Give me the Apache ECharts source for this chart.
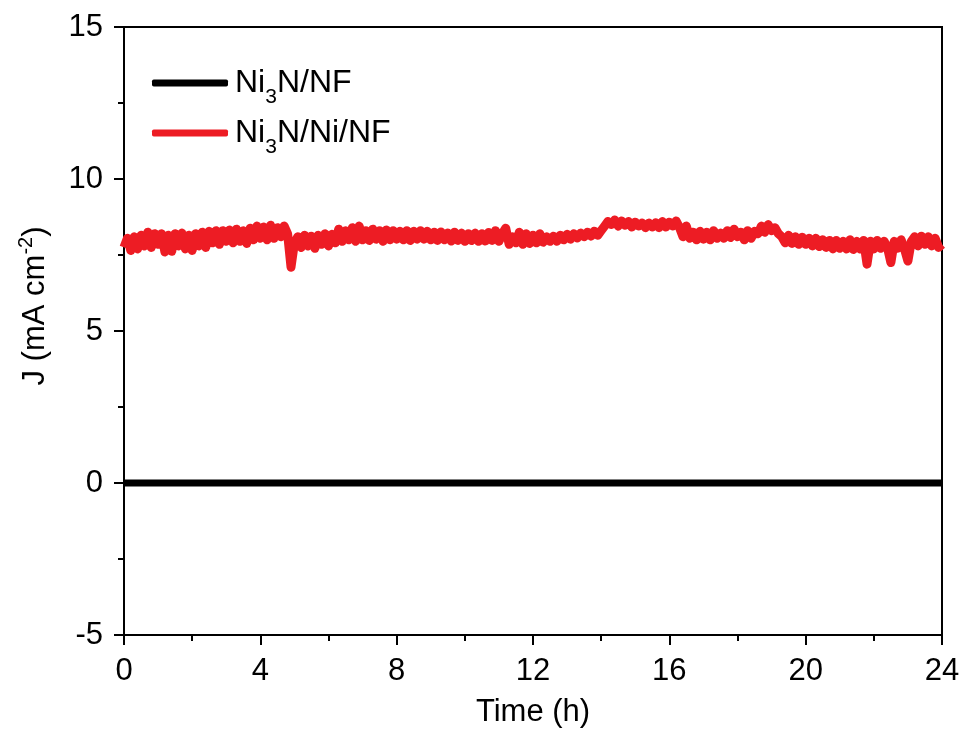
<!DOCTYPE html>
<html>
<head>
<meta charset="utf-8">
<script src="https://cdn.jsdelivr.net/npm/echarts@6/dist/echarts.min.js"></script>
<style>
  html, body { margin: 0; padding: 0; background: #fff; }
  #chart { width: 966px; height: 733px; }
</style>
</head>
<body>
<div id="chart"></div>
<script>
// Chronoamperometry: current density over 24 h, sampled every 0.1 h
const timeStep = 0.1;
const seriesNames = ['Ni3N/NF', 'Ni3N/Ni/NF'];
const xTicks = [0, 4, 8, 12, 16, 20, 24];
const yTicks = [-5, 0, 5, 10, 15];

// Ni3N/NF stays at ~0 mA cm-2 over the whole run
const ni3nNF = [[0, 0], [24, 0]];

// Ni3N/Ni/NF current density (mA cm-2)
const ni3nNiNF = [
  7.75, 8.05, 7.65, 8.1, 7.7, 8.15,
  7.8, 8.25, 7.75, 8.2, 7.85,
  8.2, 7.6, 8.15, 7.62,
  8.2, 7.8, 8.22, 7.7, 8.15,
  7.65, 8.2, 7.8, 8.25, 7.75,
  8.28, 7.9, 8.3, 7.85, 8.3, 7.95,
  8.32, 7.9, 8.35, 7.95, 8.3, 7.88, 8.38,
  8.0, 8.45, 8.05, 8.42, 8.0, 8.48, 8.05, 8.4, 8.1, 8.45, 8.2,
  7.1,
  7.9, 8.1,
  7.75, 8.15, 7.8, 8.12, 7.72, 8.15, 7.85, 8.2, 7.8, 8.18, 7.9,
  8.35, 7.95, 8.3, 8.0, 8.4, 7.95, 8.45, 8.0, 8.3, 7.98, 8.35, 8.02, 8.3,
  7.95, 8.32, 8.0, 8.3, 8.02, 8.28, 8.0, 8.3, 7.98, 8.28, 8.02, 8.3,
  8.02, 8.28, 8.0, 8.25, 7.98, 8.26, 8.0, 8.22, 7.96, 8.25, 7.98, 8.22,
  7.95, 8.2, 7.98, 8.22, 7.95, 8.2, 7.96, 8.24, 7.98, 8.3, 7.95,
  8.2, 8.38, 7.85, 8.1, 7.9, 8.25, 7.85, 8.2, 7.88, 8.15, 7.9, 8.2, 7.92, 8.1, 7.95,
  8.12, 7.95, 8.15, 8.0, 8.18, 8.02, 8.2, 8.06, 8.22, 8.1, 8.25, 8.12, 8.28, 8.15, 8.3,
  8.45, 8.6, 8.5,
  8.65, 8.45, 8.62, 8.48, 8.6, 8.42, 8.58, 8.45, 8.55, 8.4,
  8.55, 8.42, 8.56, 8.4, 8.6, 8.42, 8.58, 8.45, 8.62, 8.4,
  8.1, 8.45, 8.05,
  8.25, 8.0, 8.28, 8.02, 8.25, 8.0, 8.3, 8.05, 8.22,
  8.05, 8.3, 8.08, 8.35, 8.1, 8.25, 8.0, 8.3, 8.05, 8.28,
  8.2, 8.45, 8.25, 8.5, 8.3, 8.4, 8.2,
  8.1, 7.9, 8.15, 7.88, 8.1, 7.85, 8.08, 7.85, 8.05, 7.8, 8.05, 7.78, 8.0, 7.75, 7.98,
  7.7, 7.98, 7.72, 7.95, 7.7, 8.0, 7.68, 7.95, 7.7, 7.98,
  7.2,
  7.95, 7.7, 7.98, 7.72, 7.95, 7.75,
  7.25,
  7.95, 7.72, 8.0, 7.7,
  7.3,
  7.95, 8.1, 7.8, 8.12, 7.85, 8.1, 7.8, 8.05, 7.75, 7.85
];

const font = "'Liberation Sans', Arial, sans-serif";
const redData = ni3nNiNF.map((v, i) => [+(i * timeStep).toFixed(1), v]);

const legendRich = {
  base: { fontFamily: font, fontSize: 32, color: '#000' },
  sub: { fontFamily: font, fontSize: 21, color: '#000', padding: [28, 0, 0, 0] }
};
const legendLabel = name => name.replace('Ni3', '{base|Ni}{sub|3}{base|') + '}';

const axisCommon = {
  type: 'value',
  axisLine: { show: true, onZero: false, lineStyle: { color: '#000', width: 2 } },
  axisTick: { show: true, inside: false, length: 10, lineStyle: { color: '#000', width: 2 } },
  minorTick: { show: true, splitNumber: 2, length: 6, lineStyle: { color: '#000', width: 2 } },
  splitLine: { show: false }
};

const chart = echarts.init(document.getElementById('chart'));
chart.setOption({
  backgroundColor: '#fff',
  animation: false,
  grid: {
    left: 124, right: 24, top: 27, bottom: 98,
    show: true, borderColor: '#000', borderWidth: 2, backgroundColor: 'transparent'
  },
  legend: [0, 1].map(i => ({
    data: [{ name: seriesNames[i], icon: 'roundRect' }],
    left: 147, top: 62 + i * 50,
    itemWidth: 76, itemHeight: 7, itemGap: 0,
    selectedMode: false,
    formatter: legendLabel,
    textStyle: { rich: legendRich, padding: [0, 0, 0, 2] }
  })),
  xAxis: Object.assign({}, axisCommon, {
    min: 0, max: 24, interval: 4,
    name: 'Time (h)', nameLocation: 'middle', nameGap: 62,
    nameTextStyle: { fontFamily: font, fontSize: 31, color: '#000' },
    axisLabel: {
      fontFamily: font, fontSize: 31, color: '#000', margin: 21,
      formatter: v => xTicks.includes(v) ? String(v) : ''
    }
  }),
  yAxis: Object.assign({}, axisCommon, {
    min: -5, max: 15, interval: 5,
    name: 'J (mA cm{sup|-2})', nameLocation: 'middle', nameGap: 70,
    nameTextStyle: {
      fontFamily: font, fontSize: 31, color: '#000', padding: [0, 0, 0, 50],
      rich: {
        sup: { fontFamily: font, fontSize: 20, color: '#000', padding: [0, 0, 18, 0] }
      }
    },
    axisLabel: {
      fontFamily: font, fontSize: 31, color: '#000', margin: 21,
      formatter: v => yTicks.includes(v) ? String(v) : ''
    }
  }),
  series: [
    {
      name: seriesNames[0], type: 'line', data: ni3nNF,
      showSymbol: false, symbol: 'none',
      lineStyle: { color: '#000', width: 7, cap: 'butt' },
      itemStyle: { color: '#000' }, z: 2
    },
    {
      name: seriesNames[1], type: 'line', data: redData,
      showSymbol: false, symbol: 'none',
      lineStyle: { color: '#ED1C24', width: 9, cap: 'butt', join: 'round' },
      itemStyle: { color: '#ED1C24' }, z: 3
    }
  ]
});
</script>
</body>
</html>
